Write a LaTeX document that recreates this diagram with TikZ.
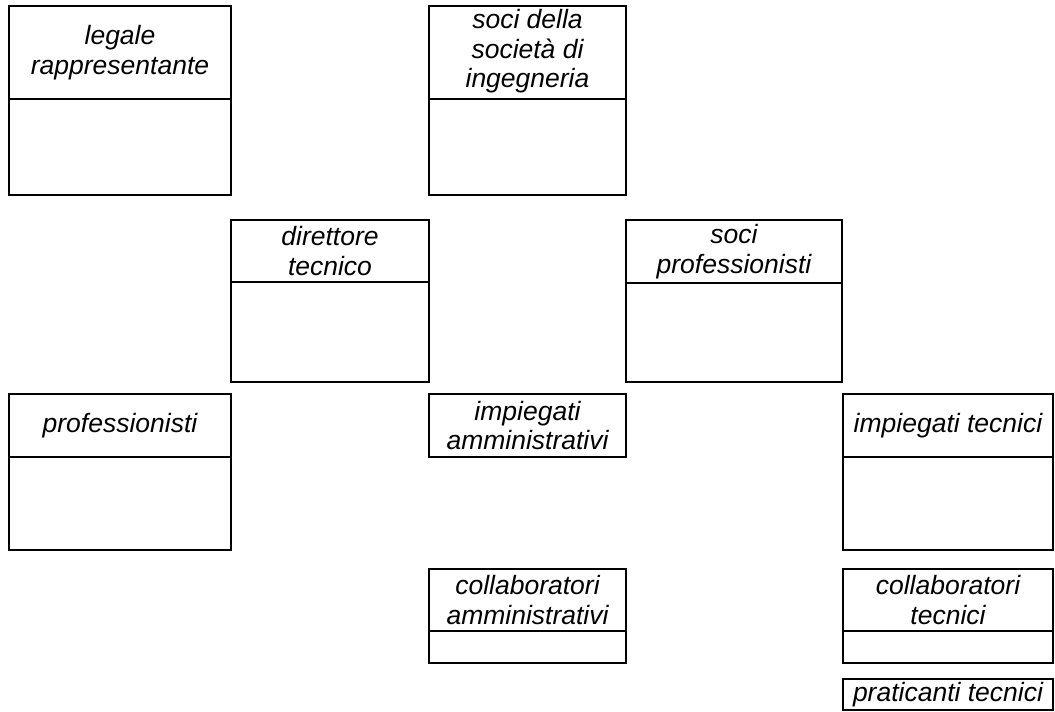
\documentclass[tikz,border=0pt]{standalone}
\usepackage{fontspec}
\setmainfont{Liberation Sans}
\begin{document}
\begin{tikzpicture}[x=1pt,y=-1pt,
  cell/.style={draw, line width=1.5pt, inner sep=0pt, outer sep=0pt, anchor=north west,
     align=center, font=\fontsize{26.5}{29.5}\selectfont\itshape},
  body/.style={draw, line width=1.5pt, inner sep=0pt, outer sep=0pt, anchor=north}]
\useasboundingbox (0,0) rectangle (1055,712);
% legale rappresentante
\node[cell, minimum width=222pt, minimum height=93pt] (h1) at (9,6) {legale\\rappresentante};
\node[body, minimum width=222pt, minimum height=96pt] (b1) at (h1.south) {};
% soci della societa
\node[cell, minimum width=197pt, minimum height=93pt] (h2) at (429,6) {\raisebox{-3pt}{\begin{tabular}{@{}c@{}}soci della\\società di\\ingegneria\end{tabular}}};
\node[body, minimum width=197pt, minimum height=96pt] (b2) at (h2.south) {};
% direttore tecnico
\node[cell, minimum width=198pt, minimum height=62pt] (h3) at (231,220) {direttore\\tecnico};
\node[body, minimum width=198pt, minimum height=100pt] (b3) at (h3.south) {};
% soci professionisti
\node[cell, minimum width=216pt, minimum height=63pt] (h4) at (626,220) {soci\\professionisti};
\node[body, minimum width=216pt, minimum height=99pt] (b4) at (h4.south) {};
% professionisti
\node[cell, minimum width=222pt, minimum height=63pt] (h5) at (9,394) {professionisti};
\node[body, minimum width=222pt, minimum height=93pt] (b5) at (h5.south) {};
% impiegati amministrativi
\node[cell, minimum width=197pt, minimum height=63pt] (h6) at (429,394) {impiegati\\amministrativi};
% impiegati tecnici
\node[cell, minimum width=210pt, minimum height=63pt] (h7) at (843,394) {impiegati tecnici};
\node[body, minimum width=210pt, minimum height=93pt] (b7) at (h7.south) {};
% collaboratori amministrativi
\node[cell, minimum width=197pt, minimum height=62pt] (h8) at (429,569) {collaboratori\\amministrativi};
\node[body, minimum width=197pt, minimum height=32pt] (b8) at (h8.south) {};
% collaboratori tecnici
\node[cell, minimum width=210pt, minimum height=62pt] (h9) at (843,569) {collaboratori\\tecnici};
\node[body, minimum width=210pt, minimum height=32pt] (b9) at (h9.south) {};
% praticanti tecnici
\node[cell, minimum width=210pt, minimum height=31pt] (h10) at (843,679) {praticanti tecnici};
\end{tikzpicture}
\end{document}
